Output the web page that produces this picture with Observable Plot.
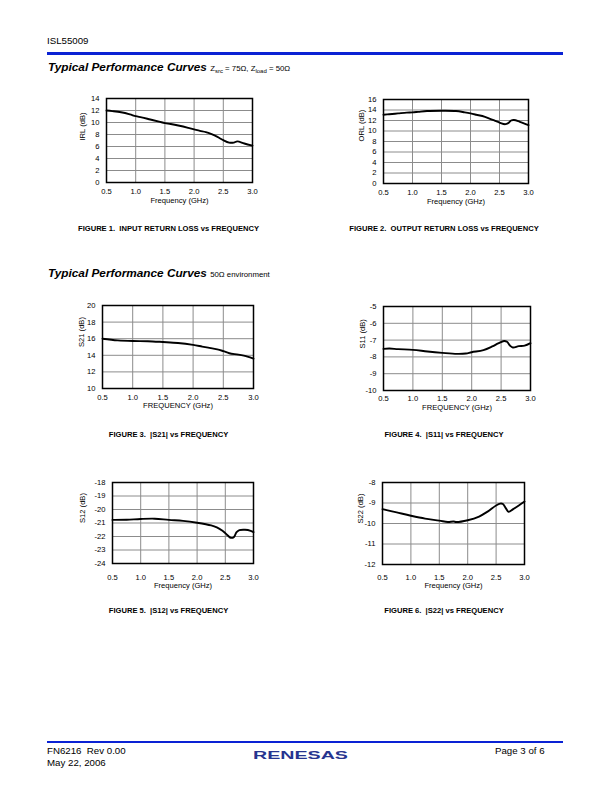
<!DOCTYPE html>
<html><head><meta charset="utf-8">
<script src="https://cdn.jsdelivr.net/npm/d3@7"></script>
<script src="https://cdn.jsdelivr.net/npm/@observablehq/plot@0.6"></script>
<style>
html,body{margin:0;padding:0;background:#fff}
body{width:612px;height:792px;position:relative;overflow:hidden;font-family:"Liberation Sans",Arial,sans-serif;color:#000}
.t{position:absolute;white-space:nowrap;line-height:1}
.rule{position:absolute;background:#0a22d4}
.title{font-weight:bold;font-style:italic;font-size:11.8px}
.sub{font-weight:normal;font-style:normal;font-size:7.8px}
.sub sub{font-size:6px;vertical-align:-2px}
.cap{font-weight:bold;font-size:7.6px;transform:translateX(-50%)}
svg.chart{position:absolute;overflow:visible}
</style></head><body>
<script>
// ---------- data ----------
const xTicks = [0.5, 1.0, 1.5, 2.0, 2.5, 3.0];

const irlFreq = [0.5, 0.6, 0.75, 0.9, 1.0, 1.1, 1.25, 1.4, 1.5, 1.6, 1.75, 1.9, 2.0, 2.1, 2.2, 2.3, 2.4, 2.5, 2.6, 2.68, 2.74, 2.86, 3.0];
const irlDb   = [12.0, 11.9, 11.7, 11.35, 11.05, 10.85, 10.5, 10.15, 9.9, 9.75, 9.45, 9.1, 8.85, 8.6, 8.4, 8.05, 7.6, 7.05, 6.65, 6.65, 6.85, 6.5, 6.15];
const irlTicks = [0, 2, 4, 6, 8, 10, 12, 14];

const orlFreq = [0.5, 0.6, 0.75, 0.9, 1.0, 1.1, 1.25, 1.5, 1.75, 1.9, 2.0, 2.1, 2.25, 2.4, 2.5, 2.6, 2.65, 2.7, 2.75, 2.85, 3.0];
const orlDb   = [13.1, 13.2, 13.35, 13.5, 13.55, 13.65, 13.8, 13.85, 13.8, 13.55, 13.35, 13.1, 12.7, 12.05, 11.6, 11.3, 11.5, 12.0, 12.1, 11.75, 11.1];
const orlTicks = [0, 2, 4, 6, 8, 10, 12, 14, 16];

const s21Freq = [0.5, 0.75, 1.0, 1.25, 1.5, 1.75, 2.0, 2.15, 2.25, 2.4, 2.5, 2.6, 2.75, 2.9, 3.0];
const s21Db   = [16.0, 15.8, 15.72, 15.7, 15.6, 15.48, 15.25, 15.05, 14.92, 14.72, 14.5, 14.25, 14.08, 13.85, 13.6];
const s21Ticks = [10, 12, 14, 16, 18, 20];

const s11Freq = [0.5, 0.6, 0.75, 1.0, 1.25, 1.5, 1.75, 1.9, 2.0, 2.2, 2.35, 2.45, 2.55, 2.6, 2.65, 2.7, 2.8, 2.9, 3.0];
const s11Db   = [-7.52, -7.5, -7.54, -7.58, -7.68, -7.76, -7.82, -7.8, -7.72, -7.6, -7.38, -7.2, -7.05, -7.1, -7.32, -7.44, -7.36, -7.33, -7.18];
const s11Ticks = [-10, -9, -8, -7, -6, -5];

const s12Freq = [0.5, 0.75, 1.0, 1.25, 1.5, 1.75, 2.0, 2.25, 2.35, 2.45, 2.5, 2.55, 2.6, 2.65, 2.7, 2.75, 2.85, 2.95, 3.0];
const s12Db   = [-20.77, -20.76, -20.7, -20.68, -20.77, -20.84, -20.98, -21.18, -21.33, -21.58, -21.75, -21.95, -22.1, -22.05, -21.68, -21.53, -21.5, -21.58, -21.68];
const s12Ticks = [-24, -23, -22, -21, -20, -19, -18];

const s22Freq = [0.5, 0.75, 1.0, 1.25, 1.5, 1.65, 1.75, 1.8, 2.0, 2.2, 2.35, 2.5, 2.57, 2.62, 2.67, 2.72, 2.8, 2.9, 3.0];
const s22Db   = [-9.3, -9.46, -9.62, -9.76, -9.86, -9.93, -9.9, -9.93, -9.84, -9.66, -9.42, -9.12, -9.03, -9.05, -9.25, -9.43, -9.3, -9.12, -8.93];
const s22Ticks = [-12, -11, -10, -9, -8];

// ---------- page text ----------
function txt(html, cls, left, top, extra) {
  const d = document.createElement("div");
  d.className = "t " + (cls || "");
  d.innerHTML = html;
  d.style.left = left + "px";
  d.style.top = top + "px";
  if (extra) Object.assign(d.style, extra);
  document.body.appendChild(d);
  return d;
}
function rule(left, top, width, height) {
  const d = document.createElement("div");
  d.className = "rule";
  Object.assign(d.style, {left: left + "px", top: top + "px", width: width + "px", height: height + "px"});
  document.body.appendChild(d);
}

txt("ISL55009", "", 47, 36, {fontSize: "9.7px"});
rule(47, 52, 516, 2.8);
txt('Typical Performance Curves <span class="sub">Z<sub>src</sub> = 75Ω, Z<sub>load</sub> = 50Ω</span>', "title", 48, 61.5);
txt("FIGURE 1.&nbsp; INPUT RETURN LOSS vs FREQUENCY", "cap", 168.5, 225.4);
txt("FIGURE 2.&nbsp; OUTPUT RETURN LOSS vs FREQUENCY", "cap", 444, 225.4);
txt('Typical Performance Curves <span class="sub">50Ω environment</span>', "title", 48, 268.3);
txt("FIGURE 3.&nbsp; |S21| vs FREQUENCY", "cap", 168.5, 431.4);
txt("FIGURE 4.&nbsp; |S11| vs FREQUENCY", "cap", 444, 431.4);
txt("FIGURE 5.&nbsp; |S12| vs FREQUENCY", "cap", 168.5, 607.4);
txt("FIGURE 6.&nbsp; |S22| vs FREQUENCY", "cap", 444, 607.4);
txt(".", "", 82, 111, {fontSize: "7px"});

rule(47, 740.5, 516, 2.6);
txt("FN6216&nbsp; Rev 0.00", "", 47, 746.2, {fontSize: "9.7px"});
txt("May 22, 2006", "", 47, 758.2, {fontSize: "9.7px"});
txt("Page 3 of 6", "", 495, 746.2, {fontSize: "9.7px"});
const logo = document.createElementNS("http://www.w3.org/2000/svg", "svg");
logo.setAttribute("width", 110); logo.setAttribute("height", 16);
Object.assign(logo.style, {position: "absolute", left: "245px", top: "748px"});
logo.innerHTML = '<text x="8" y="11.4" textLength="95" lengthAdjust="spacingAndGlyphs" font-family="Liberation Sans, Arial, sans-serif" font-weight="bold" font-size="10.2" fill="#26348f">RENESAS</text>';
document.body.appendChild(logo);

// ---------- charts ----------
function chart(o) {
  const [L, T, R, B] = o.frame;
  const mL = 45, mT = 8, mR = 10, mB = 32;
  const data = o.x.map((f, i) => ({f, v: o.y[i]}));
  const p = Plot.plot({
    width: (R - L) + mL + mR,
    height: (B - T) + mT + mB,
    marginLeft: mL, marginTop: mT, marginRight: mR, marginBottom: mB,
    style: {fontFamily: "Liberation Sans, Arial, sans-serif", fontSize: "7.6px", color: "#000", background: "none", overflow: "visible"},
    x: {domain: [0.5, 3.0]},
    y: {domain: [o.yTicks[0], o.yTicks[o.yTicks.length - 1]]},
    marks: [
      Plot.gridX(xTicks, {stroke: "#8c8c8c", strokeOpacity: 1, strokeWidth: 1}),
      Plot.gridY(o.yTicks, {stroke: "#8c8c8c", strokeOpacity: 1, strokeWidth: 1}),
      Plot.axisX(xTicks, {tickSize: 0, tickPadding: o.xPad, tickFormat: d3.format(".1f"), label: null}),
      Plot.axisY(o.yTicks, {tickSize: 0, tickPadding: 7, tickFormat: d => String(d).replace("\u2212", "-"), label: null}),
      Plot.line(data, {x: "f", y: "v", stroke: "#000", strokeWidth: 1.9, curve: "catmull-rom"}),
      Plot.frame({stroke: "#000", strokeWidth: 1.5}),
      Plot.text([o.xLabel], {text: d => d, frameAnchor: "bottom", dy: o.xLabelDy, fontSize: 7.6}),
      Plot.text([o.yLabel], {text: d => d, frameAnchor: "left", dx: o.yLabelDx, rotate: -90, fontSize: 7.6})
    ]
  });
  p.classList.add("chart");
  p.style.left = (L - mL) + "px";
  p.style.top = (T - mT) + "px";
  document.body.appendChild(p);
}

chart({x: irlFreq, y: irlDb, yTicks: irlTicks, frame: [106, 98, 252, 182], xPad: 6, xLabel: "Frequency (GHz)", xLabelDy: 20, yLabel: "IRL (dB)", yLabelDx: -24});
chart({x: orlFreq, y: orlDb, yTicks: orlTicks, frame: [383, 99, 528, 183], xPad: 6.5, xLabel: "Frequency (GHz)", xLabelDy: 20, yLabel: "ORL (dB)", yLabelDx: -22});
chart({x: s21Freq, y: s21Db, yTicks: s21Ticks, frame: [102, 305, 253, 388], xPad: 6, xLabel: "FREQUENCY (GHz)", xLabelDy: 19.5, yLabel: "S21 (dB)", yLabelDx: -21});
chart({x: s11Freq, y: s11Db, yTicks: s11Ticks, frame: [383, 306, 530, 390], xPad: 5, xLabel: "FREQUENCY (GHz)", xLabelDy: 19.5, yLabel: "S11 (dB)", yLabelDx: -21});
chart({x: s12Freq, y: s12Db, yTicks: s12Ticks, frame: [112, 482, 253, 563], xPad: 11, xLabel: "Frequency (GHz)", xLabelDy: 24.5, yLabel: "S12 (dB)", yLabelDx: -30});
chart({x: s22Freq, y: s22Db, yTicks: s22Ticks, frame: [382, 482, 524, 564], xPad: 10, xLabel: "Frequency (GHz)", xLabelDy: 23, yLabel: "S22 (dB)", yLabelDx: -21.5});
</script>
</body></html>
